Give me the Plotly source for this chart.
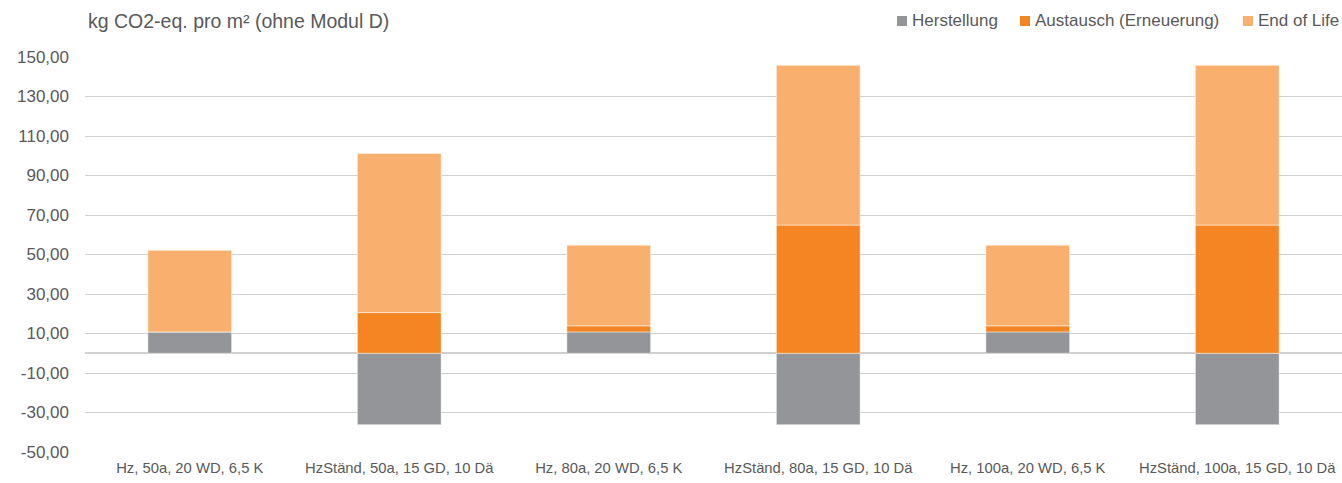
import plotly.graph_objects as go

categories = ["Hz, 50a, 20 WD, 6,5 K", "HzStänd, 50a, 15 GD, 10 Dä",
              "Hz, 80a, 20 WD, 6,5 K", "HzStänd, 80a, 15 GD, 10 Dä",
              "Hz, 100a, 20 WD, 6,5 K", "HzStänd, 100a, 15 GD, 10 Dä"]
herstellung = [10.8, -36.2, 10.8, -36.2, 10.8, -36.2]
austausch = [0.0, 20.6, 3.1, 64.9, 3.1, 64.9]
end_of_life = [41.3, 80.5, 40.8, 80.9, 40.8, 80.9]

tick_values = [-50, -30, -10, 10, 30, 50, 70, 90, 110, 130, 150]
tick_labels = ["-50,00", "-30,00", "-10,00", "10,00", "30,00", "50,00",
               "70,00", "90,00", "110,00", "130,00", "150,00"]

series_names = ["Herstellung", "Austausch (Erneuerung)", "End of Life"]
series_values = [herstellung, austausch, end_of_life]
series_colors = ["#939598", "#F58423", "#F9B06E"]

W, H = 1342, 483
ml, mr, mt, mb = 85, 0, 57, 31
pw, ph = W - ml - mr, H - mt - mb


def px_x(px):
    return (px - ml) / pw


def px_y(py):
    return 1 + (mt - py) / ph


fig = go.Figure()
for name, vals, col in zip(series_names, series_values, series_colors):
    fig.add_trace(go.Bar(x=categories, y=vals, name=name, showlegend=False,
                         marker=dict(color=col, line=dict(color="rgba(255,255,255,0.6)", width=0.8))))

# legend drawn as layout decoration (square + label)
legend_left = [897, 1020, 1243]
shapes = []
annotations = [dict(text="kg CO2-eq. pro m² (ohne Modul D)", xref="paper", yref="paper",
                    x=px_x(86), y=px_y(21), xanchor="left", yanchor="middle",
                    showarrow=False, font=dict(size=19.5, color="#595959"))]
for lx, name, col in zip(legend_left, series_names, series_colors):
    shapes.append(dict(type="rect", xref="paper", yref="paper",
                       x0=px_x(lx), x1=px_x(lx + 10), y0=px_y(26), y1=px_y(16),
                       fillcolor=col, line=dict(width=0)))
    annotations.append(dict(text=name, xref="paper", yref="paper",
                            x=px_x(lx + 13), y=px_y(21), xanchor="left", yanchor="middle",
                            showarrow=False, font=dict(size=17, color="#595959")))

fig.update_layout(
    width=W, height=H,
    barmode="relative", bargap=0.6,
    margin=dict(l=ml, r=mr, t=mt, b=mb, autoexpand=False),
    paper_bgcolor="white", plot_bgcolor="white",
    font=dict(family="Liberation Sans, Arial, sans-serif", color="#595959", size=14),
    showlegend=False,
    xaxis=dict(showgrid=False, showline=False, ticks="", automargin=False,
               ticklabelstandoff=5,
               tickfont=dict(size=14.8, color="#595959")),
    yaxis=dict(range=[-50, 150], tickmode="array", tickvals=tick_values, ticktext=tick_labels,
               showgrid=True, gridcolor="#D0D0D0", gridwidth=1,
               zeroline=True, zerolinecolor="#D0D0D0", zerolinewidth=1.5,
               automargin=False, ticklabelstandoff=15,
               tickfont=dict(size=17, color="#595959")),
    shapes=shapes,
    annotations=annotations,
)

fig.write_html("out.html", config={"displayModeBar": False},
               post_script="document.body.style.margin='0';document.body.style.overflow='hidden';")
